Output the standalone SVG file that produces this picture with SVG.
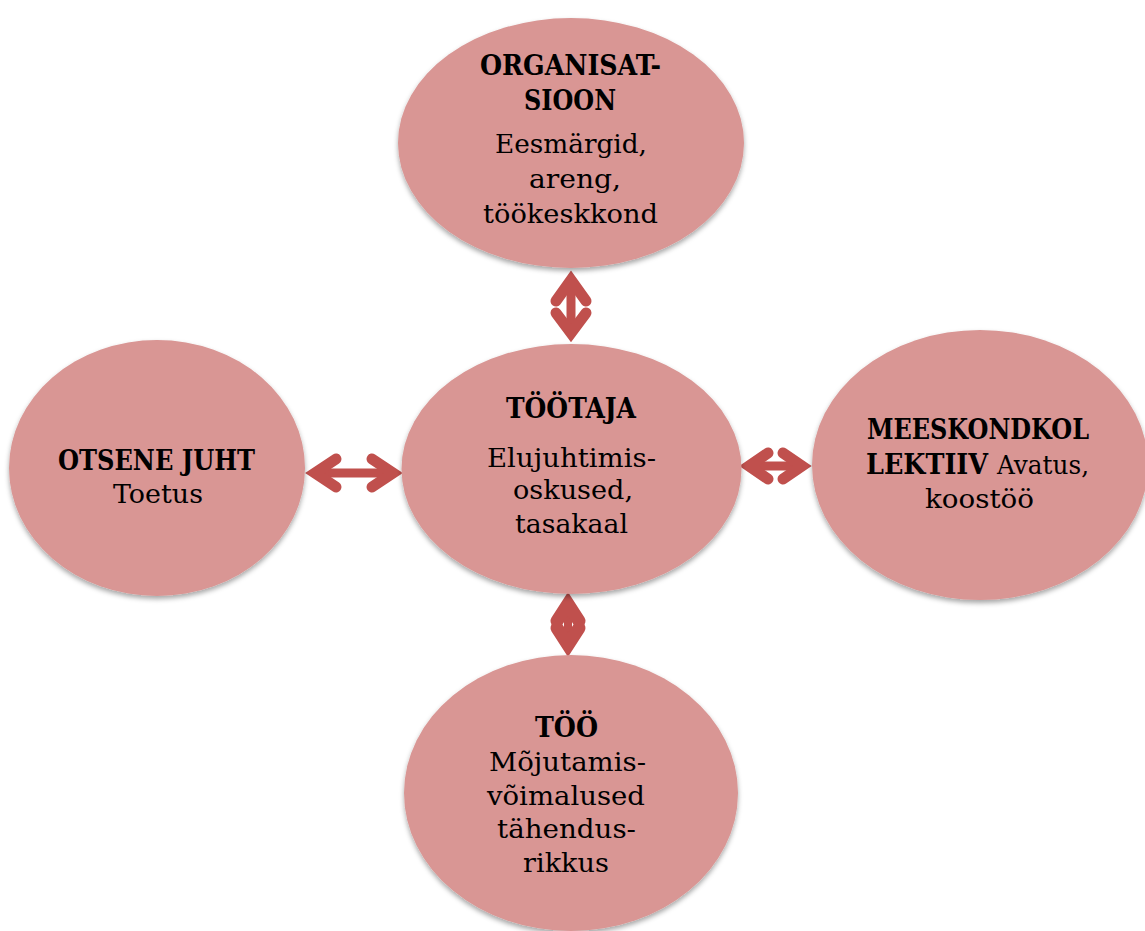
<svg xmlns="http://www.w3.org/2000/svg" width="1145" height="931" viewBox="0 0 1145 931">
<style>
.node{fill:#D99694;filter:url(#sh)}
.t{font-family:"DejaVu Serif","Liberation Serif",serif;font-size:26.5px;fill:#000}
.b{font-weight:bold;font-size:27px}
.arr path{fill:none;stroke:#C0504D;stroke-linecap:round;stroke-linejoin:miter;stroke-miterlimit:10}
.arr .sh{stroke-width:9;stroke-linecap:butt}
.arr .hd{stroke-width:11}
</style>
<defs>
<filter id="sh" x="-10%" y="-10%" width="120%" height="125%">
<feDropShadow dx="0" dy="3" stdDeviation="2.5" flood-color="#000" flood-opacity="0.35"/>
</filter>
</defs>
<rect width="1145" height="931" fill="#fff"/>
<g id="connectors" class="arr">
<g id="arrow-top">
<path class="sh" d="M571,280 V333"/>
<path class="hd" d="M556,301 L571,280 L586,301"/>
<path class="hd" d="M556,313 L571,333 L586,313"/>
</g>
<g id="arrow-left">
<path class="sh" d="M315,473 H393"/>
<path class="hd" d="M336,459 L315,473 L336,487"/>
<path class="hd" d="M372,459 L393,473 L372,487"/>
</g>
<g id="arrow-right">
<path class="sh" d="M749,466 H802"/>
<path class="hd" d="M768,453 L749,466 L768,479"/>
<path class="hd" d="M783,453 L802,466 L783,479"/>
</g>
<g id="arrow-bottom">
<path class="sh" d="M568,604 V645" style="stroke-width:8"/>
<path class="hd" d="M557,621 L568,604 L579,621" style="stroke-width:13"/>
<path class="hd" d="M557,628 L568,645 L579,628" style="stroke-width:13"/>
</g>
</g>
<g id="node-organisatsioon">
<ellipse class="node" cx="571" cy="143" rx="173" ry="125"/>
<text class="t b" x="480" y="75" textLength="181" lengthAdjust="spacingAndGlyphs">ORGANISAT-</text>
<text class="t b" x="524" y="110" textLength="92" lengthAdjust="spacingAndGlyphs">SIOON</text>
<text class="t" x="495" y="153" textLength="152" lengthAdjust="spacingAndGlyphs">Eesmärgid,</text>
<text class="t" x="529" y="188" textLength="92" lengthAdjust="spacingAndGlyphs">areng,</text>
<text class="t" x="483" y="223" textLength="175" lengthAdjust="spacingAndGlyphs">töökeskkond</text>
</g>
<g id="node-tootaja">
<ellipse class="node" cx="571.5" cy="469" rx="170" ry="125"/>
<text class="t b" x="506" y="418" textLength="130" lengthAdjust="spacingAndGlyphs">TÖÖTAJA</text>
<text class="t" x="487" y="467" textLength="169" lengthAdjust="spacingAndGlyphs">Elujuhtimis-</text>
<text class="t" x="513" y="499" textLength="120" lengthAdjust="spacingAndGlyphs">oskused,</text>
<text class="t" x="515" y="533" textLength="113" lengthAdjust="spacingAndGlyphs">tasakaal</text>
</g>
<g id="node-otsene-juht">
<ellipse class="node" cx="157" cy="468" rx="148" ry="128"/>
<text class="t b" x="58" y="470" textLength="197" lengthAdjust="spacingAndGlyphs">OTSENE JUHT</text>
<text class="t" x="113" y="503" textLength="90" lengthAdjust="spacingAndGlyphs">Toetus</text>
</g>
<g id="node-meeskond">
<ellipse class="node" cx="980" cy="465" rx="168" ry="135"/>
<text class="t b" x="867" y="439" textLength="222" lengthAdjust="spacingAndGlyphs">MEESKONDKOL</text>
<text class="t b" x="866" y="474" textLength="122" lengthAdjust="spacingAndGlyphs">LEKTIIV</text>
<text class="t" x="997" y="474" textLength="92" lengthAdjust="spacingAndGlyphs">Avatus,</text>
<text class="t" x="925" y="508" textLength="109" lengthAdjust="spacingAndGlyphs">koostöö</text>
</g>
<g id="node-too">
<ellipse class="node" cx="571" cy="793" rx="167" ry="138"/>
<text class="t b" x="535" y="737" textLength="63" lengthAdjust="spacingAndGlyphs">TÖÖ</text>
<text class="t" x="489" y="771" textLength="157" lengthAdjust="spacingAndGlyphs">Mõjutamis-</text>
<text class="t" x="487" y="805" textLength="158" lengthAdjust="spacingAndGlyphs">võimalused</text>
<text class="t" x="497" y="838" textLength="139" lengthAdjust="spacingAndGlyphs">tähendus-</text>
<text class="t" x="523" y="872" textLength="86" lengthAdjust="spacingAndGlyphs">rikkus</text>
</g>
</svg>
